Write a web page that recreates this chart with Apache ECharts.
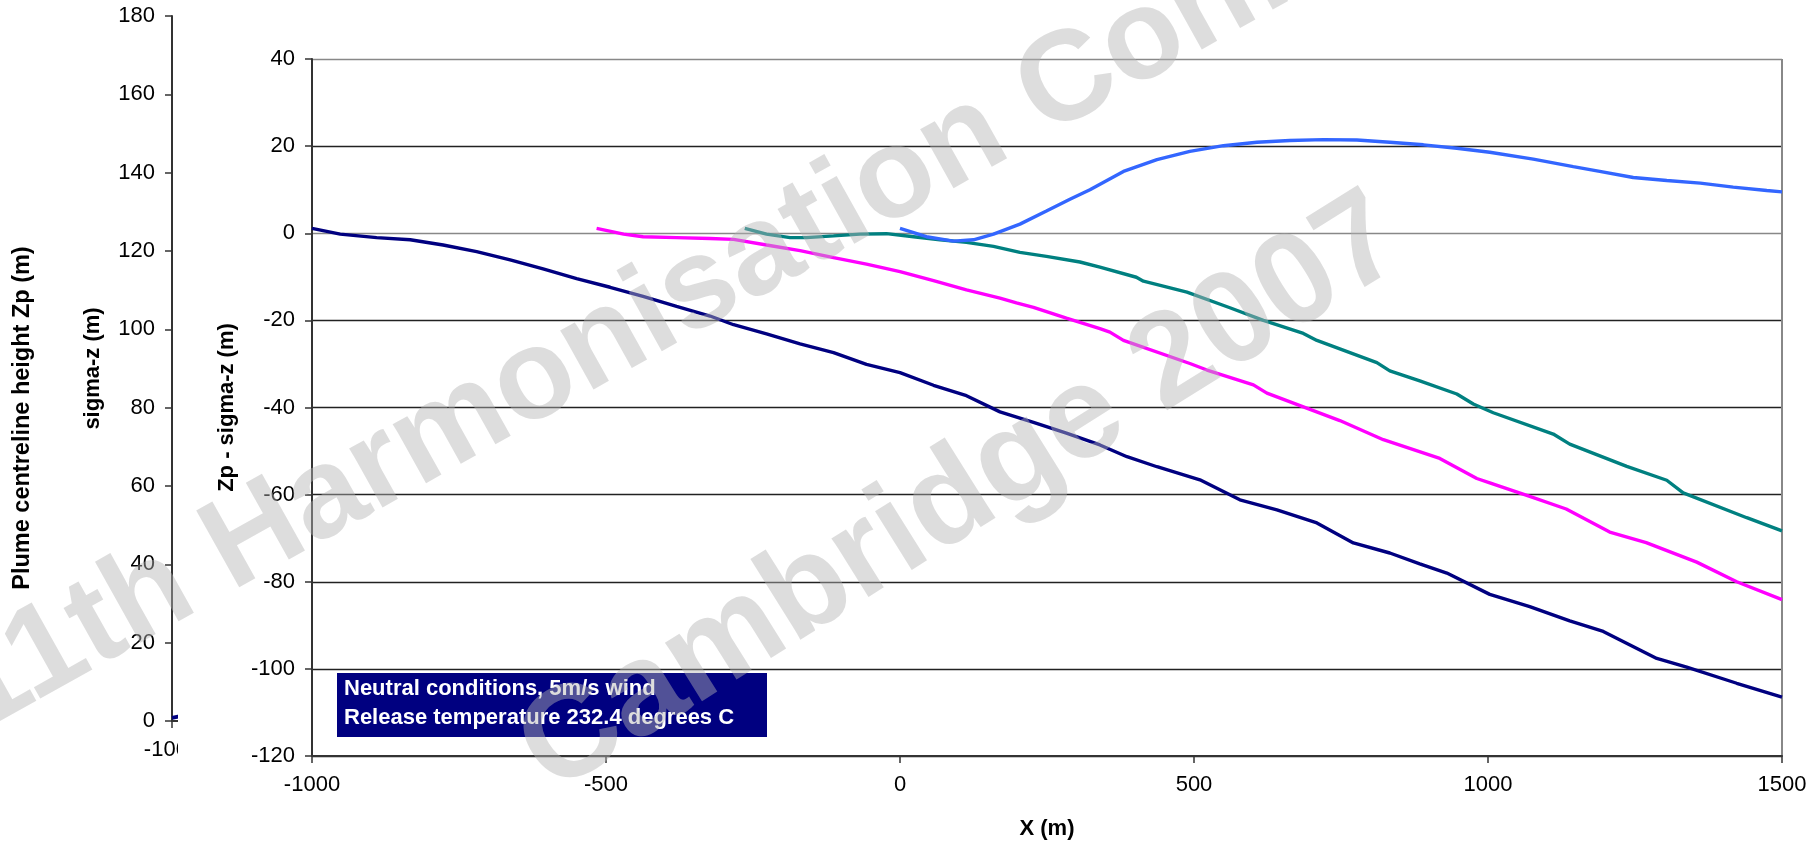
<!DOCTYPE html>
<html><head><meta charset="utf-8">
<script src="https://cdn.jsdelivr.net/npm/echarts@6/dist/echarts.min.js"></script>
<style>html,body{margin:0;padding:0;background:#fff}#c{width:1817px;height:845px}</style>
</head><body><div id="c"></div>
<script>
// ---- data (x in m, y in m) ----
const seriesNames = ['Zp - sigma-z (navy)', 'Zp - sigma-z (magenta)', 'Zp - sigma-z (teal)', 'Zp - sigma-z (blue)'];
const seriesNavy = [[-1000,1.1],[-952,-0.2],[-890,-1.0],[-833,-1.5],[-777,-2.7],[-720,-4.2],[-663,-6.1],[-607,-8.2],[-550,-10.4],[-493,-12.4],[-437,-14.5],[-380,-16.8],[-323,-19.0],[-283,-21.0],[-227,-23.1],[-170,-25.4],[-113,-27.4],[-57,-30.1],[0,-32.0],[57,-34.9],[113,-37.3],[170,-41.0],[227,-43.4],[283,-45.9],[340,-48.6],[386,-51.3],[437,-53.6],[510,-56.6],[578,-61.2],[641,-63.5],[709,-66.5],[771,-71.1],[833,-73.4],[884,-75.9],[930,-78.0],[1003,-82.9],[1071,-85.7],[1139,-89.0],[1196,-91.4],[1287,-97.6],[1338,-99.6],[1423,-103.3],[1500,-106.5]];
const seriesMagenta = [[-516,1.1],[-470,-0.2],[-437,-0.8],[-380,-1.0],[-323,-1.2],[-283,-1.4],[-227,-2.7],[-170,-4.0],[-113,-5.6],[-57,-7.1],[0,-8.8],[57,-10.9],[113,-13.0],[170,-14.9],[198,-16.0],[227,-17.0],[283,-19.5],[340,-21.9],[357,-22.7],[380,-24.6],[493,-29.9],[522,-31.4],[601,-34.8],[624,-36.7],[748,-43.0],[822,-47.4],[918,-51.7],[981,-56.3],[1003,-57.3],[1071,-60.4],[1133,-63.3],[1207,-68.6],[1269,-71.0],[1355,-75.5],[1423,-80.0],[1500,-84.1]];
const seriesTeal = [[-264,1.1],[-227,-0.2],[-187,-1.0],[-159,-1.0],[-113,-0.6],[-68,-0.2],[-23,-0.1],[23,-0.8],[68,-1.5],[113,-2.1],[159,-3.0],[204,-4.4],[249,-5.3],[306,-6.6],[340,-7.8],[402,-10.1],[414,-11.0],[488,-13.5],[561,-17.1],[618,-20.0],[686,-23.0],[709,-24.6],[811,-29.7],[833,-31.6],[884,-33.9],[947,-36.9],[975,-39.2],[1009,-41.2],[1111,-46.1],[1139,-48.4],[1236,-53.5],[1304,-56.7],[1332,-59.6],[1440,-65.3],[1500,-68.3]];
const seriesBlue = [[0,1.1],[45,-0.8],[91,-1.8],[125,-1.5],[159,-0.2],[204,2.1],[249,5.1],[289,7.8],[323,10.0],[380,14.2],[437,16.9],[493,18.8],[550,20.1],[607,20.9],[663,21.3],[720,21.5],[777,21.4],[833,20.9],[890,20.3],[947,19.5],[1003,18.6],[1077,17.0],[1145,15.3],[1190,14.2],[1247,12.8],[1304,12.1],[1361,11.5],[1417,10.6],[1474,9.8],[1500,9.5]];
// hidden sigma-z chart behind (only its start is visible)
const sigmaZNavy = [[-1000,0.8],[-950,2.5]];
// axis ranges / ticks
const xRange = [-1000, 1500], xStep = 500;
const yMainRange = [-120, 40], yMainStep = 20;
const ySigmaRange = [0, 180], ySigmaStep = 20;
const boxLines = ['Neutral conditions, 5m/s wind', 'Release temperature 232.4 degrees C'];
const watermark = ['11th Harmonisation Conference', 'Cambridge 2007'];
const colors = ['#000080', '#FF00FF', '#008080', '#3366FF'];

const FF = '"Liberation Sans", Arial, sans-serif';
const chart = echarts.init(document.getElementById('c'), null, {renderer: 'canvas'});
const fmt = v => String(v);
const labelStyle = {fontSize: 22, color: '#000', fontFamily: FF, formatter: fmt};
const nameStyle = {fontSize: 22, color: '#000', fontWeight: 'bold', fontFamily: FF};
const axisDark = {color: '#333', width: 2};
const hGrid = ['#222','#222','#222','#222','#222','#222','#888','#222','#888'];
const wmFill = 'rgba(180,180,180,0.45)';

const mainData = [seriesNavy, seriesMagenta, seriesTeal, seriesBlue];
const series = mainData.map((d, i) => ({
  name: seriesNames[i], type: 'line', xAxisIndex: 1, yAxisIndex: 1, data: d,
  showSymbol: false, symbol: 'none', z: 4,
  lineStyle: {color: colors[i], width: 3.4}, itemStyle: {color: colors[i]}
}));
series.unshift({type: 'line', xAxisIndex: 0, yAxisIndex: 0, data: sigmaZNavy, showSymbol: false, symbol: 'none', z: 0,
  lineStyle: {color: '#000080', width: 4}});

chart.setOption({
  animation: false,
  backgroundColor: '#fff',
  grid: [
    {left: 172, top: 16, height: 705, width: 1600, z: 0},
    {left: 312, top: 59, height: 700, width: 1470, z: 2},
    {left: 50, top: 57, height: 722, width: 10, z: 0}
  ],
  xAxis: [
    {gridIndex: 0, type: 'value', min: xRange[0], max: xRange[1], interval: xStep, z: 0,
     axisLine: {show: true, onZero: false, lineStyle: axisDark}, axisTick: {show: true, length: 7, lineStyle: {color: '#333', width: 1.5}},
     axisLabel: Object.assign({margin: 18}, labelStyle), splitLine: {show: false}},
    {gridIndex: 1, type: 'value', min: xRange[0], max: xRange[1], interval: xStep, z: 3,
     axisLine: {show: true, onZero: false, lineStyle: axisDark}, axisTick: {show: true, length: 7, lineStyle: {color: '#333', width: 1.5}},
     axisLabel: Object.assign({margin: 18}, labelStyle),
     splitLine: {show: true, lineStyle: {color: ['rgba(0,0,0,0)','rgba(0,0,0,0)','rgba(0,0,0,0)','rgba(0,0,0,0)','rgba(0,0,0,0)','#888'], width: 2}},
     name: 'X (m)', nameLocation: 'middle', nameGap: 62, nameTextStyle: nameStyle},
    {gridIndex: 2, type: 'value', show: false}
  ],
  yAxis: [
    {gridIndex: 0, type: 'value', min: ySigmaRange[0], max: ySigmaRange[1], interval: ySigmaStep, z: 0,
     axisLine: {show: true, onZero: false, lineStyle: axisDark}, axisTick: {show: true, length: 7, lineStyle: {color: '#333', width: 1.5}},
     axisLabel: Object.assign({margin: 17}, labelStyle), splitLine: {show: false},
     name: 'sigma-z (m)', nameLocation: 'middle', nameGap: 68, nameTextStyle: nameStyle},
    {gridIndex: 1, type: 'value', min: yMainRange[0], max: yMainRange[1], interval: yMainStep, z: 3,
     axisLine: {show: true, onZero: false, lineStyle: axisDark}, axisTick: {show: true, length: 7, lineStyle: {color: '#333', width: 1.5}},
     axisLabel: Object.assign({margin: 17}, labelStyle),
     splitLine: {show: true, lineStyle: {color: hGrid, width: 1.3}},
     name: 'Zp - sigma-z (m)', nameLocation: 'middle', nameGap: 74, nameTextStyle: nameStyle},
    {gridIndex: 2, type: 'value', min: 0, max: 1, axisLine: {show: false}, axisTick: {show: false}, axisLabel: {show: false}, splitLine: {show: false},
     name: 'Plume centreline height Zp (m)', nameLocation: 'middle', nameGap: 15,
     nameTextStyle: Object.assign({}, nameStyle, {fontSize: 23.5})}
  ],
  series: series,
  graphic: [
    {type: 'rect', z: 1, silent: true, shape: {x: 178, y: 0, width: 1639, height: 845}, style: {fill: '#fff'}},
    {type: 'rect', z: 5, shape: {x: 337, y: 673, width: 430, height: 64}, style: {fill: '#000080'}},
    {type: 'text', z: 5, x: 344, y: 689, style: {text: boxLines[0], fill: '#fff', font: 'bold 22px ' + FF, textVerticalAlign: 'middle'}},
    {type: 'text', z: 5, x: 344, y: 718, style: {text: boxLines[1], fill: '#fff', font: 'bold 22px ' + FF, textVerticalAlign: 'middle'}},
    {type: 'text', z: 6, silent: true, x: -40, y: 703, rotation: 29.2 * Math.PI / 180,
     style: {text: watermark[0], fill: wmFill, font: 'bold 128px ' + FF, textAlign: 'left', textVerticalAlign: 'middle'}},
    {type: 'text', z: 6, silent: true, x: 533, y: 764, rotation: 32 * Math.PI / 180,
     style: {text: watermark[1], fill: wmFill, font: 'bold 131px ' + FF, textAlign: 'left', textVerticalAlign: 'middle'}}
  ]
});
</script></body></html>
